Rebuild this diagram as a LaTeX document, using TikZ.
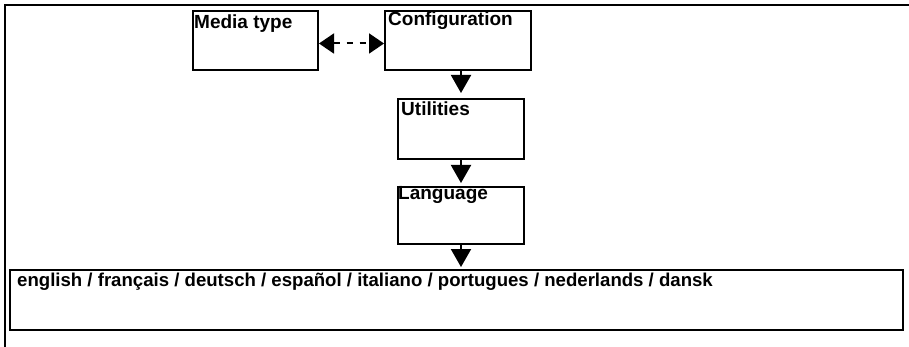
\documentclass[tikz,border=0pt]{standalone}
\usepackage{fontspec}
\setmainfont{Liberation Sans}
\usetikzlibrary{arrows.meta}
\tikzset{
  panel/.style={draw, line width=2pt, rectangle, inner sep=0pt, anchor=north west},
  lbl/.style={anchor=base west, inner sep=0pt, font=\bfseries\fontsize{19}{22}\selectfont},
  biglbl/.style={anchor=base west, inner sep=0pt, font=\bfseries\fontsize{18.6}{22}\selectfont},
  flow/.style={line width=2pt, -{Triangle[width=20pt,length=18pt]}},
  twoway/.style={line width=2pt, dash pattern=on 6pt off 7pt,
    {Triangle[width=20pt,length=15pt]}-{Triangle[width=20pt,length=15pt]}},
}
\begin{document}
\begin{tikzpicture}[x=1pt, y=-1pt]
  \useasboundingbox (0,0) rectangle (909,347);
  % frame lines at the top and left
  \draw[line width=2pt] (5,347) -- (5,5) -- (909,5);

  % boxes
  \node[panel, minimum width=125pt, minimum height=59pt] (media) at (192,10) {};
  \node[panel, minimum width=146pt, minimum height=59pt] (config) at (384,10) {};
  \node[panel, minimum width=126pt, minimum height=60pt] (util) at (397,98) {};
  \node[panel, minimum width=126pt, minimum height=57pt] (lang) at (397,186) {};
  \node[panel, minimum width=893pt, minimum height=60pt] (langs) at (9,269) {};

  % labels
  \node[lbl] (medialbl) at (194,29) {Media type};
  \node[lbl] (configlbl) at (388,26) {Configuration};
  \node[lbl] (utillbl) at (401,116) {Utilities};
  \node[lbl] (langlbl) at (398,200) {Language};
  \node[biglbl] (langslbl) at (17,286) {english / français / deutsch / español / italiano / portugues / nederlands / dansk};

  % connectors
  \draw[twoway] ([yshift=-3pt]media.east) -- ([yshift=-3pt]media.east -| config.west);
  \draw[flow, shorten >=5pt] (util.north |- config.south) -- (util.north);
  \draw[flow, shorten >=3pt] (lang.north |- util.south) -- (lang.north);
  \draw[flow, shorten >=2pt] (lang.south) -- (lang.south |- langs.north);
\end{tikzpicture}
\end{document}
